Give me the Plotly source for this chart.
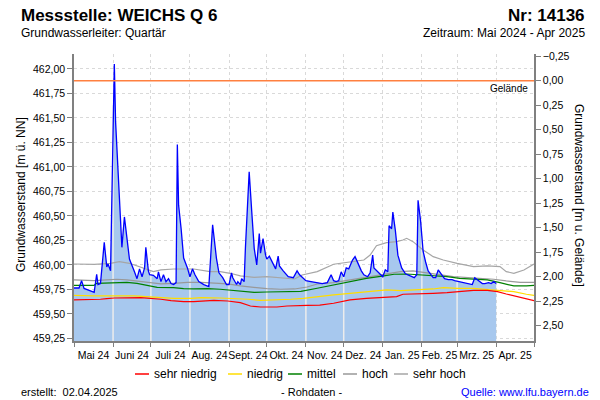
import numpy as np
import pandas as pd
import plotly.graph_objects as go

# ---------------- data ----------------
level_dates = [
    "2024-05-01", "2024-05-05", "2024-05-07", "2024-05-09", "2024-05-13", "2024-05-15", "2024-05-17",
    "2024-05-19", "2024-05-20", "2024-05-22", "2024-05-25", "2024-05-27", "2024-05-28", "2024-05-30",
    "2024-06-01", "2024-06-02", "2024-06-03", "2024-06-06", "2024-06-08", "2024-06-10", "2024-06-12",
    "2024-06-14", "2024-06-18", "2024-06-20", "2024-06-22", "2024-06-24", "2024-06-26", "2024-06-27",
    "2024-06-29", "2024-06-30", "2024-07-03", "2024-07-06", "2024-07-07", "2024-07-09", "2024-07-11",
    "2024-07-13", "2024-07-15", "2024-07-17", "2024-07-19", "2024-07-21", "2024-07-22", "2024-07-23",
    "2024-07-25", "2024-07-27", "2024-07-30", "2024-08-01", "2024-08-03", "2024-08-05", "2024-08-08",
    "2024-08-12", "2024-08-16", "2024-08-19", "2024-08-22", "2024-08-24", "2024-08-27", "2024-08-30",
    "2024-09-01", "2024-09-03", "2024-09-04", "2024-09-07", "2024-09-08", "2024-09-10", "2024-09-11",
    "2024-09-13", "2024-09-14", "2024-09-16", "2024-09-17", "2024-09-19", "2024-09-21", "2024-09-23",
    "2024-09-25", "2024-09-26", "2024-09-28", "2024-09-30", "2024-10-01", "2024-10-03", "2024-10-06",
    "2024-10-08", "2024-10-10", "2024-10-11", "2024-10-14", "2024-10-18", "2024-10-22", "2024-10-25",
    "2024-10-27", "2024-10-30", "2024-11-01", "2024-11-05", "2024-11-09", "2024-11-14", "2024-11-18",
    "2024-11-21", "2024-11-23", "2024-11-25", "2024-11-27", "2024-11-29", "2024-12-01", "2024-12-03",
    "2024-12-05", "2024-12-07", "2024-12-08", "2024-12-10", "2024-12-12", "2024-12-15", "2024-12-17",
    "2024-12-20", "2024-12-22", "2024-12-24", "2024-12-25", "2024-12-28", "2024-12-31", "2025-01-01",
    "2025-01-03", "2025-01-05", "2025-01-06", "2025-01-08", "2025-01-09", "2025-01-11", "2025-01-13",
    "2025-01-16", "2025-01-19", "2025-01-23", "2025-01-26", "2025-01-28", "2025-01-29", "2025-01-31",
    "2025-02-02", "2025-02-04", "2025-02-06", "2025-02-10", "2025-02-12", "2025-02-14", "2025-02-17",
    "2025-02-19", "2025-02-22", "2025-02-25", "2025-02-27", "2025-03-02", "2025-03-05", "2025-03-09",
    "2025-03-11", "2025-03-13", "2025-03-15", "2025-03-18", "2025-03-21", "2025-03-23", "2025-03-26",
    "2025-03-28", "2025-03-30", "2025-04-01",
]
level_values = [
    459.765, 459.765, 459.84, 459.76, 459.74, 459.73, 459.72,
    459.905, 459.80, 459.81, 460.23, 459.98, 460.01, 459.94,
    461.63, 462.05, 461.46, 460.61, 460.18, 460.49, 460.25,
    460.06, 459.93, 459.86, 459.96, 459.88, 459.97, 460.18,
    459.94, 459.90, 459.895, 459.86, 459.93, 459.83, 459.90,
    459.83, 459.86, 459.81, 459.80, 459.82, 461.23, 460.61,
    460.37, 460.07, 459.97, 459.88, 459.96, 459.90, 459.83,
    459.80, 459.78, 460.41, 460.07, 459.92, 459.87, 459.80,
    459.80, 459.92, 459.87, 459.80, 459.83, 459.80, 459.86,
    459.83, 460.17, 460.61, 460.95, 460.55, 460.17, 460.00,
    460.32, 460.12, 460.27, 460.10, 460.06, 460.09, 460.02,
    459.96, 460.09, 459.99, 459.94, 459.88, 459.87, 459.94,
    459.90, 459.86, 459.84, 459.83, 459.82, 459.81, 459.82,
    459.90, 459.84, 459.83, 459.84, 459.93, 459.88, 459.97,
    459.96, 460.02, 460.05, 460.085, 460.02, 459.94, 459.90,
    459.88, 459.92, 460.10, 459.97, 459.93, 459.90, 459.88,
    459.95, 459.93, 460.40, 460.37, 460.54, 460.35, 460.10,
    459.97, 459.91, 459.89, 459.87, 459.90, 460.66, 460.45,
    460.14, 460.03, 459.94, 459.87, 459.87, 459.95, 459.90,
    459.86, 459.85, 459.85, 459.84, 459.83, 459.82, 459.81,
    459.80, 459.80, 459.87, 459.84, 459.81, 459.81, 459.82,
    459.81, 459.83, 459.81,
]

sehr_niedrig_dates = [
    "2024-05-01", "2024-05-12", "2024-05-22", "2024-05-27", "2024-06-02", "2024-06-23", "2024-07-01",
    "2024-07-09", "2024-07-17", "2024-07-27", "2024-08-04", "2024-08-15", "2024-08-20", "2024-08-31",
    "2024-09-10", "2024-09-18", "2024-09-26", "2024-10-09", "2024-10-17", "2024-11-02", "2024-11-12",
    "2024-11-23", "2024-12-06", "2024-12-19", "2025-01-02", "2025-01-12", "2025-01-17", "2025-01-31",
    "2025-02-10", "2025-02-21", "2025-03-03", "2025-03-14", "2025-03-25", "2025-04-02", "2025-04-09",
    "2025-04-20", "2025-05-01",
]
sehr_niedrig_values = [
    459.643, 459.643, 459.650, 459.656, 459.663, 459.667, 459.660,
    459.650, 459.636, 459.626, 459.626, 459.632, 459.639, 459.632,
    459.616, 459.581, 459.571, 459.571, 459.581, 459.588, 459.590,
    459.609, 459.643, 459.660, 459.667, 459.677, 459.701, 459.711,
    459.711, 459.718, 459.728, 459.741, 459.741, 459.728, 459.704,
    459.667, 459.636,
]

niedrig_dates = [
    "2024-05-01", "2024-05-17", "2024-06-18", "2024-06-28", "2024-07-06", "2024-07-19", "2024-08-02",
    "2024-08-10", "2024-08-25", "2024-09-02", "2024-09-16", "2024-09-26", "2024-10-07", "2024-10-20",
    "2024-10-30", "2024-11-09", "2024-11-23", "2024-12-06", "2024-12-19", "2025-01-04", "2025-01-15",
    "2025-01-28", "2025-02-10", "2025-02-18", "2025-03-01", "2025-03-14", "2025-03-25", "2025-04-04",
    "2025-04-15", "2025-04-25", "2025-05-01",
]
niedrig_values = [
    459.690, 459.684, 459.684, 459.677, 459.667, 459.660, 459.660,
    459.667, 459.663, 459.660, 459.650, 459.639, 459.643, 459.650,
    459.660, 459.677, 459.694, 459.711, 459.728, 459.745, 459.738,
    459.745, 459.755, 459.769, 459.762, 459.762, 459.752, 459.745,
    459.728, 459.701, 459.690,
]

mittel_dates = [
    "2024-05-01", "2024-05-17", "2024-05-19", "2024-06-02", "2024-06-12", "2024-06-20", "2024-06-28",
    "2024-07-06", "2024-07-19", "2024-07-27", "2024-08-04", "2024-08-15", "2024-08-25", "2024-08-31",
    "2024-09-10", "2024-09-21", "2024-10-01", "2024-10-17", "2024-10-28", "2024-11-10", "2024-11-23",
    "2024-12-06", "2024-12-19", "2025-01-02", "2025-01-10", "2025-01-20", "2025-01-31", "2025-02-10",
    "2025-02-21", "2025-03-03", "2025-03-14", "2025-03-25", "2025-04-04", "2025-04-15", "2025-04-25",
    "2025-05-01",
]
mittel_values = [
    459.792, 459.792, 459.813, 459.820, 459.823, 459.813, 459.796,
    459.772, 459.769, 459.758, 459.755, 459.758, 459.752, 459.745,
    459.735, 459.721, 459.724, 459.724, 459.730, 459.762, 459.796,
    459.830, 459.864, 459.888, 459.905, 459.908, 459.898, 459.894,
    459.881, 459.864, 459.857, 459.847, 459.820, 459.786, 459.786,
    459.792,
]

hoch_dates = [
    "2024-05-01", "2024-05-17", "2024-05-27", "2024-06-04", "2024-06-12", "2024-06-23", "2024-07-03",
    "2024-07-09", "2024-07-19", "2024-07-30", "2024-08-10", "2024-08-20", "2024-08-31", "2024-09-10",
    "2024-09-21", "2024-10-01", "2024-10-12", "2024-10-23", "2024-11-02", "2024-11-10", "2024-11-23",
    "2024-12-06", "2024-12-14", "2024-12-22", "2025-01-02", "2025-01-15", "2025-01-25", "2025-02-05",
    "2025-02-16", "2025-02-26", "2025-03-09", "2025-03-19", "2025-03-30", "2025-04-09", "2025-04-20",
    "2025-05-01",
]
hoch_values = [
    459.847, 459.840, 459.847, 459.854, 459.847, 459.830, 459.820,
    459.806, 459.813, 459.823, 459.823, 459.813, 459.806, 459.786,
    459.769, 459.758, 459.752, 459.755, 459.775, 459.806, 459.820,
    459.847, 459.864, 459.881, 459.905, 459.932, 459.939, 459.922,
    459.898, 459.881, 459.871, 459.864, 459.854, 459.837, 459.823,
    459.823,
]

sehr_hoch_dates = [
    "2024-05-01", "2024-05-17", "2024-05-30", "2024-06-06", "2024-06-14", "2024-06-23", "2024-07-03",
    "2024-07-09", "2024-07-19", "2024-08-04", "2024-08-10", "2024-08-17", "2024-08-25", "2024-09-02",
    "2024-09-10", "2024-09-21", "2024-10-01", "2024-10-12", "2024-10-23", "2024-10-29", "2024-11-10",
    "2024-11-23", "2024-12-06", "2024-12-17", "2024-12-22", "2024-12-27", "2025-01-04", "2025-01-12",
    "2025-01-17", "2025-01-20", "2025-01-25", "2025-02-02", "2025-02-10", "2025-02-18", "2025-03-01",
    "2025-03-14", "2025-03-25", "2025-04-04", "2025-04-09", "2025-04-15", "2025-04-23", "2025-05-01",
]
sehr_hoch_values = [
    460.010, 460.007, 460.017, 460.034, 460.017, 459.976, 459.932,
    459.949, 459.959, 459.959, 459.949, 459.932, 459.932, 459.915,
    459.888, 459.874, 459.881, 459.871, 459.857, 459.898, 459.932,
    460.007, 460.027, 460.051, 460.102, 460.197, 460.228, 460.238,
    460.255, 460.272, 460.238, 460.153, 460.085, 460.051, 460.017,
    459.983, 459.990, 459.983, 459.932, 459.915, 459.949, 460.010,
]

ground_level = 461.88  # Geländehöhe [m ü. NN]

month_starts = [
    "2024-05-01", "2024-06-01", "2024-07-01", "2024-08-01", "2024-09-01", "2024-10-01",
    "2024-11-01", "2024-12-01", "2025-01-01", "2025-02-01", "2025-03-01", "2025-04-01", "2025-05-01",
]
month_labels = [
    "Mai 24", "Juni 24", "Juli 24", "Aug. 24", "Sept. 24", "Okt. 24",
    "Nov. 24", "Dez. 24", "Jan. 25", "Feb. 25", "Mrz. 25", "Apr. 25",
]

legend_names = ["sehr niedrig", "niedrig", "mittel", "hoch", "sehr hoch"]
legend_colors = ["#ff0000", "#ffdd00", "#008000", "#999999", "#a6a6a6"]

# ---------------- layout constants ----------------
FONT = "Liberation Sans, Arial, sans-serif"
L, R, T, B = 74, 534, 54, 341          # plot area in pixels
Y_RANGE = [459.224, 462.153]


def px(x):
    return (x - L) / (R - L)


def py(y):
    return (B - y) / (B - T)


ms = pd.to_datetime(month_starts)
mid_months = [ms[i] + (ms[i + 1] - ms[i]) / 2 for i in range(len(ms) - 1)]

fig = go.Figure()

# filled level area
fig.add_trace(go.Scatter(
    x=level_dates, y=level_values, mode="lines", fill="tozeroy",
    fillcolor="#a7c8ee", line=dict(width=0), hoverinfo="skip", showlegend=False,
))

# light month separators inside the filled area
ld = pd.to_datetime(level_dates).astype("int64")
sep_x, sep_y = [], []
for m in ms[1:-2]:
    v = float(np.interp(m.value, ld, level_values))
    sep_x += [m, m, None]
    sep_y += [Y_RANGE[0], v, None]
fig.add_trace(go.Scatter(x=sep_x, y=sep_y, mode="lines",
                         line=dict(color="#ececec", width=1.5),
                         hoverinfo="skip", showlegend=False))

# statistic lines
stats = [
    (sehr_hoch_dates, sehr_hoch_values, legend_colors[4]),
    (hoch_dates, hoch_values, legend_colors[3]),
    (mittel_dates, mittel_values, legend_colors[2]),
    (niedrig_dates, niedrig_values, legend_colors[1]),
    (sehr_niedrig_dates, sehr_niedrig_values, legend_colors[0]),
]
for d, v, c in stats:
    fig.add_trace(go.Scatter(x=d, y=v, mode="lines", line=dict(color=c, width=1.2),
                             showlegend=False))

# measured level line
fig.add_trace(go.Scatter(x=level_dates, y=level_values, mode="lines",
                         line=dict(color="#0000ff", width=1.3), showlegend=False))

# ground level (0 m below ground) on the right axis
fig.add_trace(go.Scatter(x=[month_starts[0], month_starts[-1]], y=[0, 0],
                         xaxis="x2", yaxis="y2", mode="lines",
                         line=dict(color="#ff8040", width=1.3), showlegend=False))

axis_font = dict(family=FONT, size=10.5, color="#000000")
grid_common = dict(showgrid=True, gridcolor="#d9d9d9", gridwidth=1, griddash="3px,3px")

fig.update_layout(
    width=600, height=400,
    margin=dict(l=L, r=600 - R, t=T, b=400 - B),
    paper_bgcolor="white", plot_bgcolor="white",
    separators=",.",
    font=dict(family=FONT, size=11, color="black"),
    showlegend=False,
    xaxis=dict(
        type="date", range=[month_starts[0], month_starts[-1]],
        tickmode="array", tickvals=month_starts, showticklabels=False,
        ticks="outside", ticklen=4, tickcolor="#808080",
        showline=True, linecolor="#808080", linewidth=1.5, zeroline=False,
        **grid_common,
    ),
    xaxis2=dict(
        type="date", range=[month_starts[0], month_starts[-1]], overlaying="x", anchor="y",
        side="bottom", tickmode="array", tickvals=mid_months, ticktext=month_labels,
        tickangle=0, ticks="outside", ticklen=4, tickcolor="rgba(0,0,0,0)",
        showgrid=False, showline=False, zeroline=False, tickfont=axis_font,
    ),
    yaxis=dict(
        range=Y_RANGE, tick0=459.25, dtick=0.25, tickformat=".2f",
        ticks="outside", ticklen=5, tickcolor="#808080",
        showline=True, linecolor="#808080", linewidth=1.5, zeroline=False,
        tickfont=axis_font, **grid_common,
    ),
    yaxis2=dict(
        range=[ground_level - Y_RANGE[0], ground_level - Y_RANGE[1]], overlaying="y",
        side="right", anchor="x", tick0=0, dtick=0.25, tickformat=".2f",
        ticks="outside", ticklen=5, tickcolor="#808080",
        showline=True, linecolor="#808080", linewidth=1.5, zeroline=False, showgrid=False,
        tickfont=axis_font,
    ),
)

ann = []


def add_text(text, x, y, size=12, xanchor="left", bold=False, color="black", angle=0):
    ann.append(dict(
        text=f"<b>{text}</b>" if bold else text, x=px(x), y=py(y), xref="paper", yref="paper",
        xanchor=xanchor, yanchor="middle", showarrow=False, textangle=angle,
        font=dict(family=FONT, size=size, color=color),
    ))


add_text("Messstelle: WEICHS Q 6", 19, 15, size=17, bold=True)
add_text("Nr: 14136", 587, 15, size=17, xanchor="right", bold=True)
add_text("Grundwasserleiter: Quartär", 19, 33, size=12)
add_text("Zeitraum: Mai 2024 - Apr 2025", 587, 33, size=12, xanchor="right")
add_text("Grundwasserstand [m ü. NN]", 21, 195, size=12, xanchor="center", angle=-90)
add_text("Grundwasserstand [m u. Gelände]", 579, 195, size=12, xanchor="center", angle=90)
add_text("Gelände", 530, 88, size=10, xanchor="right")

# legend
leg_lines = [(135, 149), (228, 242), (288, 302), (343, 357), (394, 408)]
shapes = []
for (x0, x1), name, col in zip(leg_lines, legend_names, legend_colors):
    shapes.append(dict(type="line", xref="paper", yref="paper", x0=px(x0), x1=px(x1),
                       y0=py(374), y1=py(374), line=dict(color=col, width=1.5)))
    add_text(name, x1 + 3, 374, size=12)

# footer
add_text("erstellt:\u00a0\u00a002.04.2025", 19, 392, size=11)
add_text("- Rohdaten -", 311, 392, size=11, xanchor="center")
add_text("Quelle: www.lfu.bayern.de", 591, 392, size=11, xanchor="right", color="#0000ff")

fig.update_layout(annotations=ann, shapes=shapes)

fig.write_html("out.html")
